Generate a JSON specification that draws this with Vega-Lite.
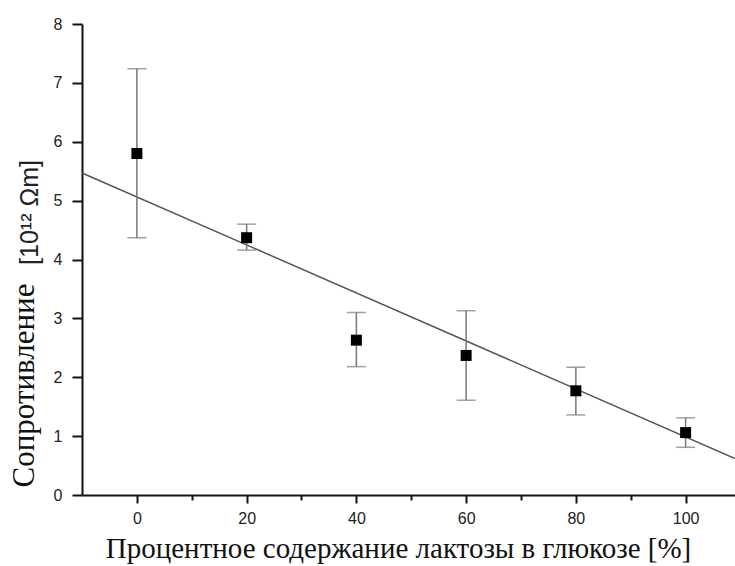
{
  "$schema": "https://vega.github.io/schema/vega-lite/v6.json",
  "width": 653,
  "height": 471,
  "autosize": {"type": "none"},
  "padding": {"left": 82, "top": 24, "right": 0, "bottom": 71},
  "background": "white",
  "config": {
    "view": {"stroke": null},
    "axis": {"grid": false, "domainColor": "#111", "domainWidth": 2, "tickColor": "#111", "tickWidth": 2, "labelFont": "Liberation Sans", "labelFontSize": 16, "labelColor": "#222", "titleFontWeight": "normal", "titleColor": "#111", "titleFont": "Liberation Serif"}
  },
  "resolve": {"axis": {"y": "independent"}},
  "datasets": {
    "pts": [
      {"pct": 0, "r": 5.80, "lo": 4.37, "hi": 7.24},
      {"pct": 20, "r": 4.37, "lo": 4.16, "hi": 4.60},
      {"pct": 40, "r": 2.63, "lo": 2.18, "hi": 3.10},
      {"pct": 60, "r": 2.37, "lo": 1.61, "hi": 3.13},
      {"pct": 80, "r": 1.77, "lo": 1.36, "hi": 2.17},
      {"pct": 100, "r": 1.06, "lo": 0.81, "hi": 1.31}
    ],
    "fit": [
      {"pct": -10, "r": 5.47},
      {"pct": 109, "r": 0.62}
    ]
  },
  "layer": [
    {
      "data": {"name": "fit"},
      "mark": {"type": "line", "color": "#555", "strokeWidth": 1.5},
      "encoding": {
        "x": {"field": "pct", "type": "quantitative", "scale": {"domain": [-10, 109], "nice": false, "zero": false},
          "axis": {"title": "Процентное содержание лактозы в глюкозе [%]", "titleFontSize": 29,
            "titleX": 316, "titleY": 62, "titleAlign": "center", "titleBaseline": "alphabetic",
            "values": [0, 10, 20, 30, 40, 50, 60, 70, 80, 90, 100], "format": "d",
            "labelExpr": "datum.value % 20 === 0 ? datum.label : ''",
            "tickSize": {"condition": {"test": "datum.value % 20 === 0", "value": 8}, "value": 5},
            "labelPadding": 7}},
        "y": {"field": "r", "type": "quantitative", "scale": {"domain": [0, 8], "nice": false},
          "axis": {"title": "Сопротивление", "titleFontSize": 31, "orient": "left",
            "titleX": -49, "titleY": 361, "titleAlign": "center", "titleBaseline": "alphabetic", "titleAngle": -90,
            "values": [0, 0.5, 1, 1.5, 2, 2.5, 3, 3.5, 4, 4.5, 5, 5.5, 6, 6.5, 7, 7.5, 8], "format": "d",
            "labelExpr": "datum.value % 1 === 0 ? datum.label : ''",
            "tickSize": {"condition": {"test": "datum.value % 1 === 0", "value": 10}, "value": 5},
            "labelPadding": 10}}
      }
    },
    {
      "data": {"name": "pts"},
      "mark": {"type": "rule", "color": "#777", "strokeWidth": 1.5},
      "encoding": {
        "x": {"field": "pct", "type": "quantitative"},
        "y": {"field": "lo", "type": "quantitative",
          "axis": {"title": "[10¹² Ωm]", "orient": "left", "domain": false, "ticks": false, "labels": false,
            "titleFont": "Liberation Sans", "titleFontSize": 25, "titleColor": "#222",
            "titleX": -45, "titleY": 188, "titleAlign": "center", "titleBaseline": "alphabetic", "titleAngle": -90}},
        "y2": {"field": "hi"}
      }
    },
    {
      "data": {"name": "pts"},
      "mark": {"type": "tick", "orient": "horizontal", "color": "#777", "size": 19, "thickness": 1.5},
      "encoding": {
        "x": {"field": "pct", "type": "quantitative"},
        "y": {"field": "lo", "type": "quantitative", "axis": null}
      }
    },
    {
      "data": {"name": "pts"},
      "mark": {"type": "tick", "orient": "horizontal", "color": "#777", "size": 19, "thickness": 1.5},
      "encoding": {
        "x": {"field": "pct", "type": "quantitative"},
        "y": {"field": "hi", "type": "quantitative", "axis": null}
      }
    },
    {
      "data": {"name": "pts"},
      "mark": {"type": "point", "shape": "square", "filled": true, "color": "#000", "size": 121, "opacity": 1},
      "encoding": {
        "x": {"field": "pct", "type": "quantitative"},
        "y": {"field": "r", "type": "quantitative", "axis": null}
      }
    }
  ]
}
